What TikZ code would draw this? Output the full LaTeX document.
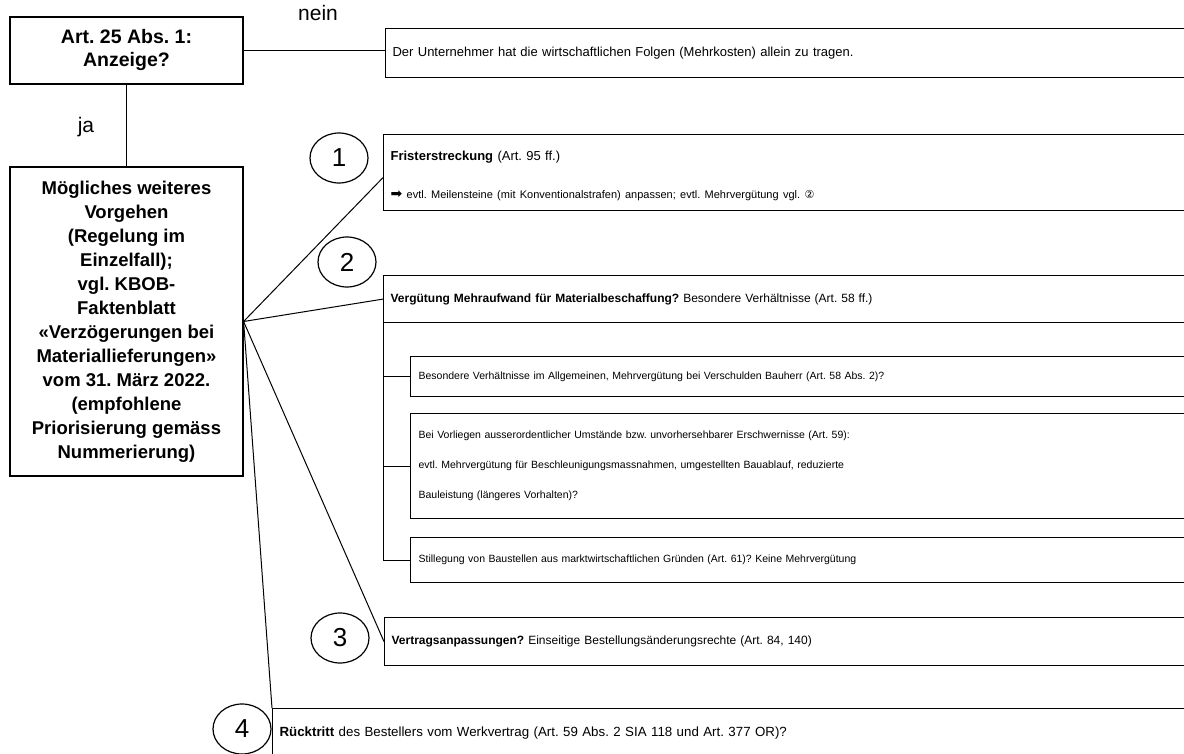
\documentclass[tikz,border=0pt]{standalone}
\usepackage{fontspec}
\setmainfont{Liberation Sans}
\newfontfamily\symfont{DejaVu Sans}
\usetikzlibrary{shapes.geometric}
\frenchspacing

\begin{document}
\begin{tikzpicture}[x=1pt,y=-1pt,
    qbox/.style={draw,line width=1.2pt,fill=white,align=center,inner sep=0pt,
                 font=\fontsize{18.5}{24}\selectfont\bfseries,minimum width=233pt},
    wbox/.style={draw,line width=1.2pt,fill=white,anchor=north west,align=left,
                 text width=930pt,inner xsep=7pt,inner ysep=0pt,
                 font=\fontsize{12}{15}\selectfont},
    subbox/.style={wbox,inner xsep=8pt,font=\fontsize{10.5}{30}\selectfont},
    num/.style={draw,ellipse,line width=1.2pt,minimum width=58pt,minimum height=50pt,
                inner sep=0pt,font=\fontsize{26}{26}\selectfont},
    lab/.style={font=\fontsize{21}{21}\selectfont},
    conn/.style={line width=1pt}
  ]
  \useasboundingbox (0,0) rectangle (1184,754);
  \clip (0,0) rectangle (1184,754);
  % left column
  \node[qbox,minimum height=67pt,font=\fontsize{19.5}{23}\selectfont\bfseries] (anz) at (126.5,50.5) {Art. 25 Abs. 1:\\Anzeige?};
  \node[qbox,minimum height=309pt] (vorg) at (126.5,321.5) {Mögliches weiteres\\Vorgehen\\(Regelung im\\Einzelfall);\\vgl. KBOB-\\Faktenblatt\\«Verzögerungen bei\\Materiallieferungen»\\vom 31. März 2022.\\(empfohlene\\Priorisierung gemäss\\Nummerierung)};
  \node[lab] (nein) at (318,13) {nein};
  \node[lab] (ja) at (86,127) {ja};
  % right column
  \node[wbox,minimum height=49pt,font=\fontsize{13}{15}\selectfont] (folgen) at (385,28) {Der Unternehmer hat die wirtschaftlichen Folgen (Mehrkosten) allein zu tragen.};
  \node[wbox,minimum height=76pt,font=\fontsize{13}{15}\selectfont] (b1) at (383,134) {\rule{0pt}{17pt}\textbf{Fristerstreckung} (Art. 95 ff.)\\[23pt]{\fontsize{11}{12}\selectfont{\symfont\fontsize{14}{12}\selectfont ➡} evtl. Meilensteine (mit Konventionalstrafen) anpassen; evtl. Mehrvergütung vgl. {\symfont ②}}};
  \node[wbox,minimum height=47pt] (b2) at (383,275) {\textbf{Vergütung Mehraufwand für Materialbeschaffung?} Besondere Verhältnisse (Art. 58 ff.)};
  \node[subbox,minimum height=40pt] (sa) at (410,356) {Besondere Verhältnisse im Allgemeinen, Mehrvergütung bei Verschulden Bauherr (Art. 58 Abs. 2)?};
  \node[subbox,minimum height=105pt] (sb) at (410,413) {Bei Vorliegen ausserordentlicher Umstände bzw. unvorhersehbarer Erschwernisse (Art. 59):\\evtl. Mehrvergütung für Beschleunigungsmassnahmen, umgestellten Bauablauf, reduzierte\\Bauleistung (längeres Vorhalten)?};
  \node[subbox,minimum height=45pt] (sc) at (410,537) {Stillegung von Baustellen aus marktwirtschaftlichen Gründen (Art. 61)? Keine Mehrvergütung};
  \node[wbox,minimum height=48pt] (b3) at (384,617) {\textbf{Vertragsanpassungen?} Einseitige Bestellungsänderungsrechte (Art. 84, 140)};
  \node[wbox,minimum height=48pt,font=\fontsize{13.3}{15}\selectfont] (b4) at (272,708) {\textbf{Rücktritt} des Bestellers vom Werkvertrag (Art. 59 Abs. 2 SIA 118 und Art. 377 OR)?};
  % numbers
  \node[num] (n1) at (339,158) {1};
  \node[num] (n2) at (347,262) {2};
  \node[num] (n3) at (340,638) {3};
  \node[num] (n4) at (242,729) {4};
  % connectors
  \draw[conn] (anz.east) -- (anz.east -| folgen.west);
  \draw[conn] (anz.south) -- (vorg.north);
  \draw[conn] (vorg.east) -- ([yshift=-5pt]b1.west);
  \draw[conn] (vorg.east) -- (b2.west);
  \draw[conn] (vorg.east) -- (b3.west);
  \draw[conn] (vorg.east) -- (b4.north west);
  \draw[conn] (b2.south west) -- (b2.south west |- sc.west);
  \foreach \s in {sa,sb,sc}
    \draw[conn] (b2.south west |- \s.west) -- (\s.west);
\end{tikzpicture}
\end{document}
